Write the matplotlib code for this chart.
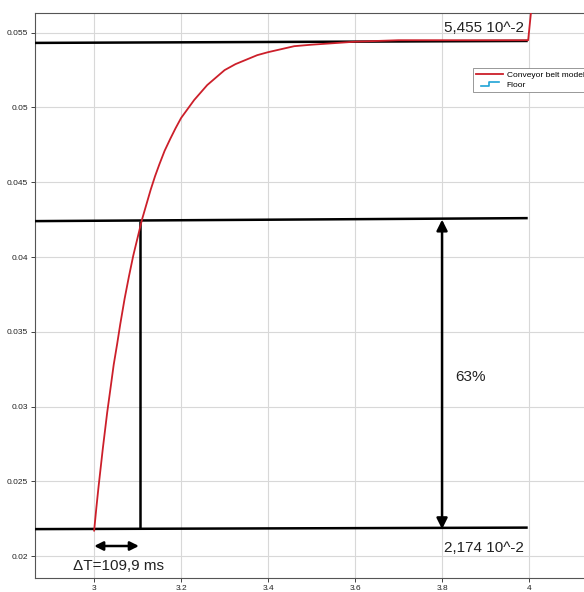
import matplotlib
matplotlib.use("Agg")
import matplotlib.pyplot as plt
from matplotlib.lines import Line2D
from matplotlib.legend_handler import HandlerBase

# ---- data ----
model_x = [3.000, 3.005, 3.010, 3.015, 3.020, 3.025, 3.030, 3.038, 3.045, 3.053,
           3.060, 3.070, 3.080, 3.090, 3.100, 3.110, 3.120, 3.130, 3.140, 3.150,
           3.162, 3.175, 3.187, 3.200, 3.215, 3.230, 3.245, 3.260, 3.280, 3.300,
           3.325, 3.350, 3.375, 3.400, 3.430, 3.460, 3.500, 3.550, 3.600, 3.700,
           3.800, 3.900, 3.998, 4.005, 4.010]
model_y = [0.0217, 0.0232, 0.0246, 0.0259, 0.0272, 0.0284, 0.0296, 0.0313, 0.0328, 0.0342,
           0.0355, 0.0372, 0.0387, 0.0401, 0.0413, 0.0425, 0.0435, 0.0445, 0.0454, 0.0462,
           0.0471, 0.0479, 0.0486, 0.0493, 0.0499, 0.0505, 0.0510, 0.0515, 0.0520, 0.0525,
           0.0529, 0.0532, 0.0535, 0.0537, 0.0539, 0.0541, 0.0542, 0.0543, 0.0544, 0.0545,
           0.0545, 0.0545, 0.0545, 0.0565, 0.0580]

top_line_x = [2.864, 3.997]
top_line_y = [0.05432, 0.05445]
mid_line_x = [2.864, 3.997]
mid_line_y = [0.0424, 0.0426]
bot_line_x = [2.864, 3.997]
bot_line_y = [0.0218, 0.0219]
vert_line_x = [3.1065, 3.1065]
vert_line_y = [0.0424, 0.0218]

arrow63_x = 3.8
arrow63_y = [0.0218, 0.0425]
dt_arrow_x = [3.0, 3.103]
dt_arrow_y = 0.02067

x_ticks = [3.0, 3.2, 3.4, 3.6, 3.8, 4.0]
x_tick_labels = ["3", "3.2", "3.4", "3.6", "3.8", "4"]
y_ticks = [0.02, 0.025, 0.03, 0.035, 0.04, 0.045, 0.05, 0.055]
y_tick_labels = ["0.02", "0.025", "0.03", "0.035", "0.04", "0.045", "0.05", "0.055"]

label_top = "5,455 10^-2"
label_bot = "2,174 10^-2"
label_pct = "63%"
label_dt = "\u0394T=109,9 ms"
series_names = ["Conveyor belt model", "Floor"]

plt.rcParams['font.family'] = ['Liberation Sans', 'DejaVu Sans']

fig = plt.figure(figsize=(5.84, 5.92), dpi=100)
ax = fig.add_axes([35/584, 14/592, 581/584, (578-12.7)/592])
ax.set_xlim(2.864, 4.2)
ax.set_ylim(0.01853, 0.05634)

ax.set_xticks(x_ticks)
ax.set_xticklabels(x_tick_labels)
ax.set_yticks(y_ticks)
ax.set_yticklabels(y_tick_labels)
ax.tick_params(axis='both', labelsize=6, colors='#222222', length=3, width=0.6,
               direction='out', pad=2)
ax.grid(True, color='#d8d8d8', lw=0.8)
ax.set_axisbelow(True)
for s in ax.spines.values():
    s.set_color('#555555')
    s.set_linewidth(0.8)

red = '#cc1f2a'
ax.plot(model_x, model_y, color=red, lw=1.3, zorder=4)

for xs, ys in [(top_line_x, top_line_y), (mid_line_x, mid_line_y),
               (bot_line_x, bot_line_y), (vert_line_x, vert_line_y)]:
    ax.plot(xs, ys, color='black', lw=1.8, zorder=3, solid_capstyle='butt')

ax.annotate('', xy=(arrow63_x, arrow63_y[1]), xytext=(arrow63_x, arrow63_y[0]),
            arrowprops=dict(arrowstyle='<|-|>', color='black', lw=1.8,
                            mutation_scale=16, shrinkA=0, shrinkB=0), zorder=5)
ax.annotate('', xy=(dt_arrow_x[1], dt_arrow_y), xytext=(dt_arrow_x[0], dt_arrow_y),
            arrowprops=dict(arrowstyle='<|-|>', color='black', lw=1.8,
                            mutation_scale=13, shrinkA=0, shrinkB=0), zorder=5)

ax.text(3.805, 0.05533, label_top, fontsize=11, color='#222222', va='center', ha='left')
ax.text(3.805, 0.02053, label_bot, fontsize=11, color='#222222', va='center', ha='left')
ax.text(3.83, 0.0320, label_pct, fontsize=11, color='#222222', va='center', ha='left')
ax.text(3.055, 0.01933, label_dt, fontsize=11, color='#222222', va='center', ha='center')


class StepHandler(HandlerBase):
    def create_artists(self, legend, orig_handle, xdescent, ydescent, width, height,
                       fontsize, trans):
        x0 = -xdescent + width * 0.2
        x1 = -xdescent + width * 0.5
        x2 = -xdescent + width * 0.85
        y0 = -ydescent + height * 0.1
        y1 = -ydescent + height * 0.85
        ln = Line2D([x0, x1, x1, x2], [y0, y0, y1, y1], color=orig_handle.get_color(),
                    lw=1.2, transform=trans)
        return [ln]


h_model = Line2D([], [], color=red, lw=1.3)
h_floor = Line2D([], [], color='#1fa3d6', lw=1.2)
leg = ax.legend([h_model, h_floor], series_names,
                handler_map={h_floor: StepHandler()},
                loc='upper left', bbox_to_anchor=(473/584, 1 - 68/592),
                bbox_transform=fig.transFigure, fontsize=6, frameon=True,
                fancybox=False, edgecolor='#888888', framealpha=1,
                handlelength=3.2, handletextpad=0.5, borderpad=0.35,
                labelspacing=0.3, borderaxespad=0)
leg.get_frame().set_linewidth(0.6)

fig.savefig('out.png', dpi=100)
